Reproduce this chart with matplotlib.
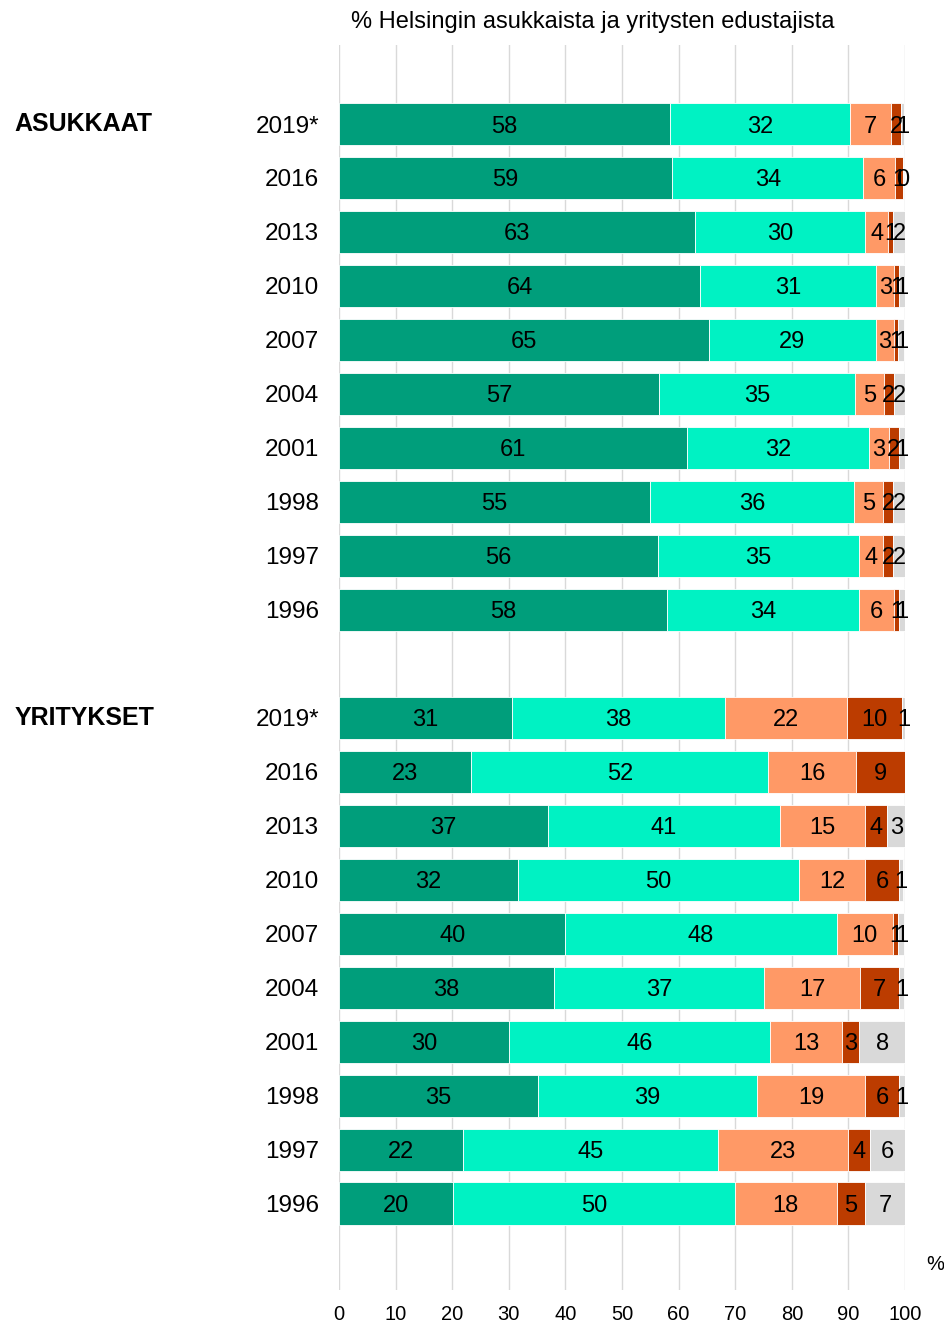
import numpy as np
import matplotlib.pyplot as plt

plt.rcParams['font.family'] = ['Liberation Sans', 'DejaVu Sans']

# --- Data (top to bottom), % of respondents ---
years = ['2019*', '2016', '2013', '2010', '2007', '2004', '2001', '1998', '1997', '1996']

# Asukkaat
as_s1 = [58.4, 58.9, 62.9, 63.8, 65.4, 56.6, 61.4, 55.0, 56.4, 57.9]
as_s2 = [31.9, 33.7, 30.1, 31.1, 29.4, 34.6, 32.3, 36.0, 35.4, 34.0]
as_s3 = [7.2, 5.6, 4.0, 3.2, 3.2, 5.0, 3.4, 5.1, 4.3, 6.2]
as_s4 = [1.8, 1.4, 0.9, 0.8, 0.8, 1.8, 1.8, 1.8, 1.8, 0.8]
as_s5 = [0.6, 0.0, 2.1, 1.1, 1.1, 2.0, 1.1, 2.1, 2.1, 1.1]

# Yritykset
yr_s1 = [30.6, 23.4, 36.9, 31.6, 40.0, 37.9, 30.0, 35.1, 21.9, 20.1]
yr_s2 = [37.6, 52.4, 41.0, 49.6, 47.9, 37.2, 46.1, 38.8, 45.0, 49.9]
yr_s3 = [21.6, 15.6, 15.1, 11.8, 10.0, 17.0, 12.8, 19.1, 23.0, 17.9]
yr_s4 = [9.6, 8.6, 3.9, 5.9, 0.9, 6.8, 3.0, 5.9, 3.9, 5.0]
yr_s5 = [0.6, np.nan, 3.1, 0.8, 1.1, 0.9, 8.1, 1.1, 6.2, 7.1]

colors = ['#009E7B', '#00F2C3', '#FF9966', '#BC3C00', '#D9D9D9']

fig = plt.figure(figsize=(9.45, 13.23), dpi=100)
ax = fig.add_axes([0.3587, 0.025, 0.599, 0.941])

groups = [
    ('ASUKKAAT', 0, [as_s1, as_s2, as_s3, as_s4, as_s5]),
    ('YRITYKSET', 11, [yr_s1, yr_s2, yr_s3, yr_s4, yr_s5]),
]

dy = 0.05  # nudge text down a bit to sit in bar middle

for name, start, series in groups:
    ypos = np.arange(len(years)) + start
    left = np.zeros(len(years))
    for vals, col in zip(series, colors):
        v = np.array(vals, dtype=float)
        w = np.nan_to_num(v)
        ax.barh(ypos, w, left=left, height=0.78, color=col,
                edgecolor='white', linewidth=0.6, zorder=2)
        for y, l, val in zip(ypos, left, v):
            if np.isnan(val):
                continue
            ax.text(l + val / 2, y + dy, '%d' % int(val + 0.5), ha='center', va='center',
                    fontsize=17, color='black', zorder=3)
        left = left + w
    for y, yr in zip(ypos, years):
        ax.text(-3.5, y + dy, yr, ha='right', va='center', fontsize=17.5)
    ax.text(-57.3, start, name, ha='left', va='center', fontsize=18,
            fontweight='bold')

ax.set_xlim(0, 100)
ax.set_ylim(21.6, -1.46)
ax.set_yticks([])
ax.set_xticks(np.arange(0, 101, 10))
ax.tick_params(axis='x', length=0, labelsize=14.5, pad=11)
ax.grid(axis='x', color='#D9D9D9', linewidth=1, zorder=0)
ax.set_axisbelow(True)
for s in ax.spines.values():
    s.set_visible(False)

fig.text(593 / 945, 1 - 22 / 1323, '% Helsingin asukkaista ja yritysten edustajista',
         ha='center', va='center', fontsize=17)
fig.text(935 / 945, 1 - 1264 / 1323, '%', ha='center', va='center', fontsize=14.5)

fig.savefig('out.png', dpi=100)
